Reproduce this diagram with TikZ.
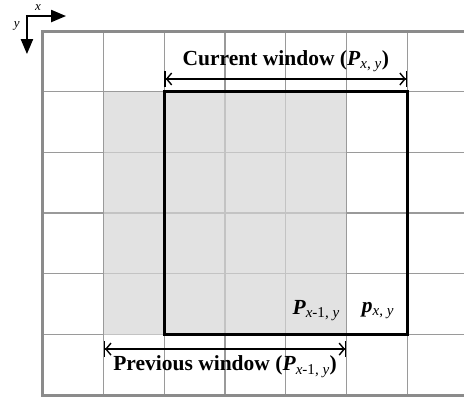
\documentclass[tikz,border=0pt]{standalone}
\usepackage{fontspec}
\setmainfont{Liberation Serif}
\usetikzlibrary{arrows.meta,positioning}

\definecolor{gridgray}{HTML}{9A9A9A}
\definecolor{prevgray}{HTML}{D5D5D5}

\begin{document}
\begin{tikzpicture}[
  x=60.7pt, y=-60.7pt,
  gridline/.style={draw=gridgray, line width=1.3pt},
  border/.style={draw=gridgray!90!black, line width=3pt},
  win/.style={draw=black, line width=3pt},
  span/.style={line width=1.4pt, {Bar[width=16pt]Straight Barb[length=5pt,width=12pt]}-{Straight Barb[length=5pt,width=12pt]Bar[width=16pt]}},
  lbl/.style={font=\fontsize{21.5}{24}\selectfont\bfseries, inner sep=0pt},
  axis/.style={line width=2.2pt, -{Triangle[length=15pt,width=12pt]}},
  axlbl/.style={font=\fontsize{13}{15}\selectfont\itshape, inner sep=0pt}
]
\useasboundingbox (-0.708,-0.511) rectangle (6.936,6.046);
\clip (-0.708,-0.511) rectangle (6.936,6.046);

% Pixel grid
\foreach \r in {1,...,5} {
  \draw[gridline] (0,\r) -- (7,\r);
}
\foreach \c in {1,...,6} {
  \draw[gridline] (\c,0) -- (\c,6);
}
\draw[border] (0,0) rectangle (7,6);

% Previous window (shaded) and current window (framed)
\fill[prevgray, opacity=0.7] (1,1) rectangle (5,5);
\draw[win] (2,1) rectangle (6,5);

% Window spans
\coordinate (cur-l) at (2,0.79);
\coordinate (cur-r) at (6,0.79);
\coordinate (prev-l) at (1,5.24);
\coordinate (prev-r) at (5,5.24);
\draw[span] (cur-l) -- (cur-r);
\draw[span] (prev-l) -- (prev-r);

\node[lbl] (curtxt) at (4,0.5) {Current window (\textit{P}\textsubscript{\mdseries\textit{x}, \textit{y}})};
\node[lbl] (prevtxt) at (3,5.53) {Previous window (\textit{P}\textsubscript{\mdseries\textit{x}-1, \textit{y}})};

% Pixel labels
\node[lbl] (pprev) at (4.5,4.6) {\textit{P}\textsubscript{\mdseries\textit{x}-1, \textit{y}}};
\node[lbl] (pcur) at (5.52,4.6) {\textit{p}\textsubscript{\mdseries\textit{x}, \textit{y}}};

% Axes
\coordinate (o) at (-0.264,-0.247);
\coordinate (xend) at (0.38,-0.247);
\coordinate (yend) at (-0.264,0.38);
\draw[axis] ([xshift=-1.1pt]o) -- (xend);
\draw[axis] ([yshift=1.1pt]o) -- (yend);
\node[axlbl] (xlab) at (-0.08,-0.39) {x};
\node[axlbl] (ylab) at (-0.43,-0.08) {y};

\end{tikzpicture}
\end{document}
